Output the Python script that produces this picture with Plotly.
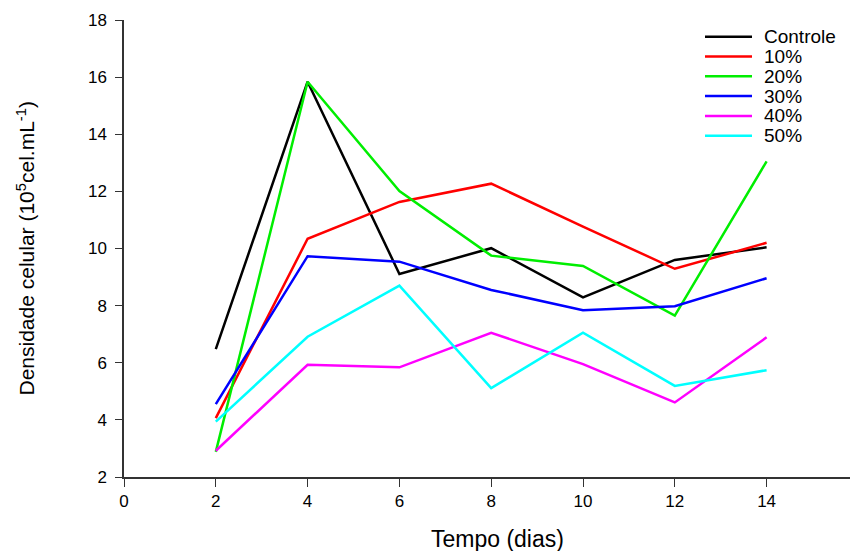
import plotly.graph_objects as go

dias = [2, 4, 6, 8, 10, 12, 14]
series_names = ["Controle", "10%", "20%", "30%", "40%", "50%"]
controle = [6.48, 15.84, 9.11, 10.01, 8.29, 9.60, 10.04]
p10 = [4.06, 10.34, 11.63, 12.27, 10.77, 9.29, 10.20]
p20 = [2.88, 15.84, 12.01, 9.75, 9.39, 7.65, 13.05]
p30 = [4.55, 9.73, 9.54, 8.55, 7.84, 7.98, 8.96]
p40 = [2.92, 5.93, 5.84, 7.05, 5.95, 4.61, 6.89]
p50 = [3.94, 6.91, 8.70, 5.11, 7.05, 5.19, 5.74]
series_values = [controle, p10, p20, p30, p40, p50]
colors = ["#000000", "#ff0000", "#00ee00", "#0000ff", "#ff00ff", "#00ffff"]
y_ticks = [2, 4, 6, 8, 10, 12, 14, 16, 18]
x_ticks = [0, 2, 4, 6, 8, 10, 12, 14]

W, H = 850, 551
L, R, T, B = 124, 0, 20, 74
pw = W - L - R
ph = H - T - B

def px_x(p):
    return (p - L) / pw

def px_y(p):
    return (H - B - p) / ph

fig = go.Figure()
for name, vals, col in zip(series_names, series_values, colors):
    fig.add_trace(go.Scatter(x=dias, y=vals, mode="lines", name=name,
                             line=dict(color=col, width=2.5), showlegend=False))

font = "Liberation Sans, Arial, sans-serif"
shapes = []
annotations = []
for i, (name, col) in enumerate(zip(series_names, colors)):
    py = 36.7 + 19.8 * i
    shapes.append(dict(type="line", xref="paper", yref="paper",
                       x0=px_x(705), x1=px_x(752), y0=px_y(py), y1=px_y(py),
                       line=dict(color=col, width=2.5)))
    annotations.append(dict(text=name, xref="paper", yref="paper",
                            x=px_x(762), y=px_y(py), xanchor="left", yanchor="middle",
                            showarrow=False, font=dict(size=19, color="black", family=font)))

annotations.append(dict(text="Tempo (dias)", xref="paper", yref="paper",
                        x=px_x(497), y=px_y(539), xanchor="center", yanchor="middle",
                        showarrow=False, font=dict(size=23, color="black", family=font)))
annotations.append(dict(text="Densidade celular (10<sup>5</sup>cel.mL<sup>-1</sup>)",
                        xref="paper", yref="paper",
                        x=px_x(25), y=0.5, xanchor="center", yanchor="middle",
                        textangle=-90, showarrow=False,
                        font=dict(size=21, color="black", family=font)))

fig.update_layout(
    width=W, height=H,
    margin=dict(l=L, r=R, t=T, b=B),
    paper_bgcolor="white", plot_bgcolor="white",
    font=dict(family=font, color="black"),
    shapes=shapes, annotations=annotations,
    xaxis=dict(range=[0, pw / 45.9], tickvals=x_ticks, ticktext=[str(v) for v in x_ticks],
               showgrid=False, zeroline=False, showline=True, linecolor="#333333",
               linewidth=1.5, ticks="outside", ticklen=8, tickcolor="#333333",
               tickwidth=1.2, tickfont=dict(size=17, color="black", family=font)),
    yaxis=dict(range=[2, 18], tickvals=y_ticks, showgrid=False, zeroline=False,
               showline=True, linecolor="#333333", linewidth=1.5, ticks="outside",
               ticklen=7, tickcolor="#333333", tickwidth=1.2, ticklabelstandoff=5,
               tickfont=dict(size=17, color="black", family=font)),
)

fig.write_html("out.html")
